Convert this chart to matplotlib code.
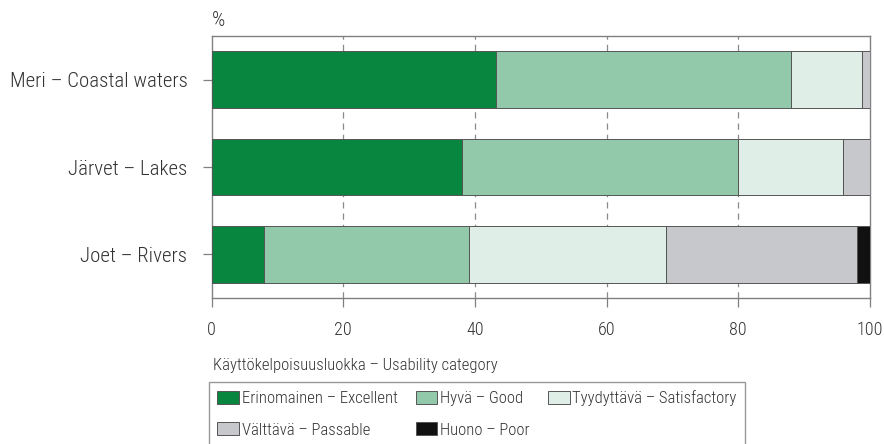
import numpy as np
import matplotlib
matplotlib.use('Agg')
import matplotlib.pyplot as plt

plt.rcParams['font.family'] = ['Roboto Condensed', 'Archivo Narrow', 'DejaVu Sans']
plt.rcParams['font.weight'] = 'light'

# data (percent of sites per usability category)
waters = ['Meri – Coastal waters', 'Järvet – Lakes', 'Joet – Rivers']
categories = ['Erinomainen – Excellent', 'Hyvä – Good', 'Tyydyttävä – Satisfactory',
              'Välttävä – Passable', 'Huono – Poor']
excellent = [43.2, 38.1, 8.0]
good = [44.8, 41.9, 31.1]
satisfactory = [10.9, 16.0, 29.9]
passable = [1.1, 4.0, 29.0]
poor = [0.0, 0.0, 2.0]
xticks = [0, 20, 40, 60, 80, 100]

colors = ['#08853f', '#93c9ab', '#dfefe7', '#c7c8cc', '#111111']
txt = '#333333'
axc = '#808080'

fig = plt.figure(figsize=(8.84, 4.44), dpi=100)
ax = fig.add_axes([211.7/884, 1-298/444, (869.7-211.7)/884, (298-36)/444])

series = [excellent, good, satisfactory, passable, poor]
y = np.arange(len(waters))
left = np.zeros(len(waters))
handles = []
for vals, col, lab in zip(series, colors, categories):
    b = ax.barh(y, vals, left=left, height=0.65, color=col, edgecolor='#555555',
                linewidth=0.7, label=lab, zorder=3)
    handles.append(b)
    left += np.array(vals)

ax.set_xlim(0, 100)
ax.set_ylim(2.5, -0.5)
ax.set_yticks(y)
ax.set_yticklabels(waters)
ax.set_xticks(xticks)
for g in xticks[1:-1]:
    ax.axvline(g, color='#8a8a8a', lw=0.9, dashes=(5, 4), zorder=1)

for s in ax.spines.values():
    s.set_color(axc)
    s.set_linewidth(1.0)
ax.tick_params(axis='both', colors=axc, length=6.5, width=0.9, labelcolor=txt)
ax.tick_params(axis='y', pad=11, labelsize=15)
ax.tick_params(axis='x', pad=10, labelsize=13)

ax.text(0.0, 1.06, '%', transform=ax.transAxes, fontsize=15, color=txt,
        ha='left', va='center')

fig.text(212.7/884, 1-365/444, 'Käyttökelpoisuusluokka – Usability category',
         fontsize=12, color=txt, ha='left', va='center')

order = [0, 3, 1, 4, 2]
leg = fig.legend([handles[i] for i in order], [categories[i] for i in order],
                 ncol=3, loc='upper left', bbox_to_anchor=(209/884, 1-382/444),
                 fontsize=12, frameon=True, fancybox=False, edgecolor=axc,
                 handlelength=1.3, handleheight=0.85, handletextpad=0.15,
                 columnspacing=1.1, labelspacing=0.95, borderpad=0.5,
                 borderaxespad=0)
leg.get_frame().set_linewidth(1.0)
for t in leg.get_texts():
    t.set_color(txt)

fig.savefig('out.png', dpi=100)
